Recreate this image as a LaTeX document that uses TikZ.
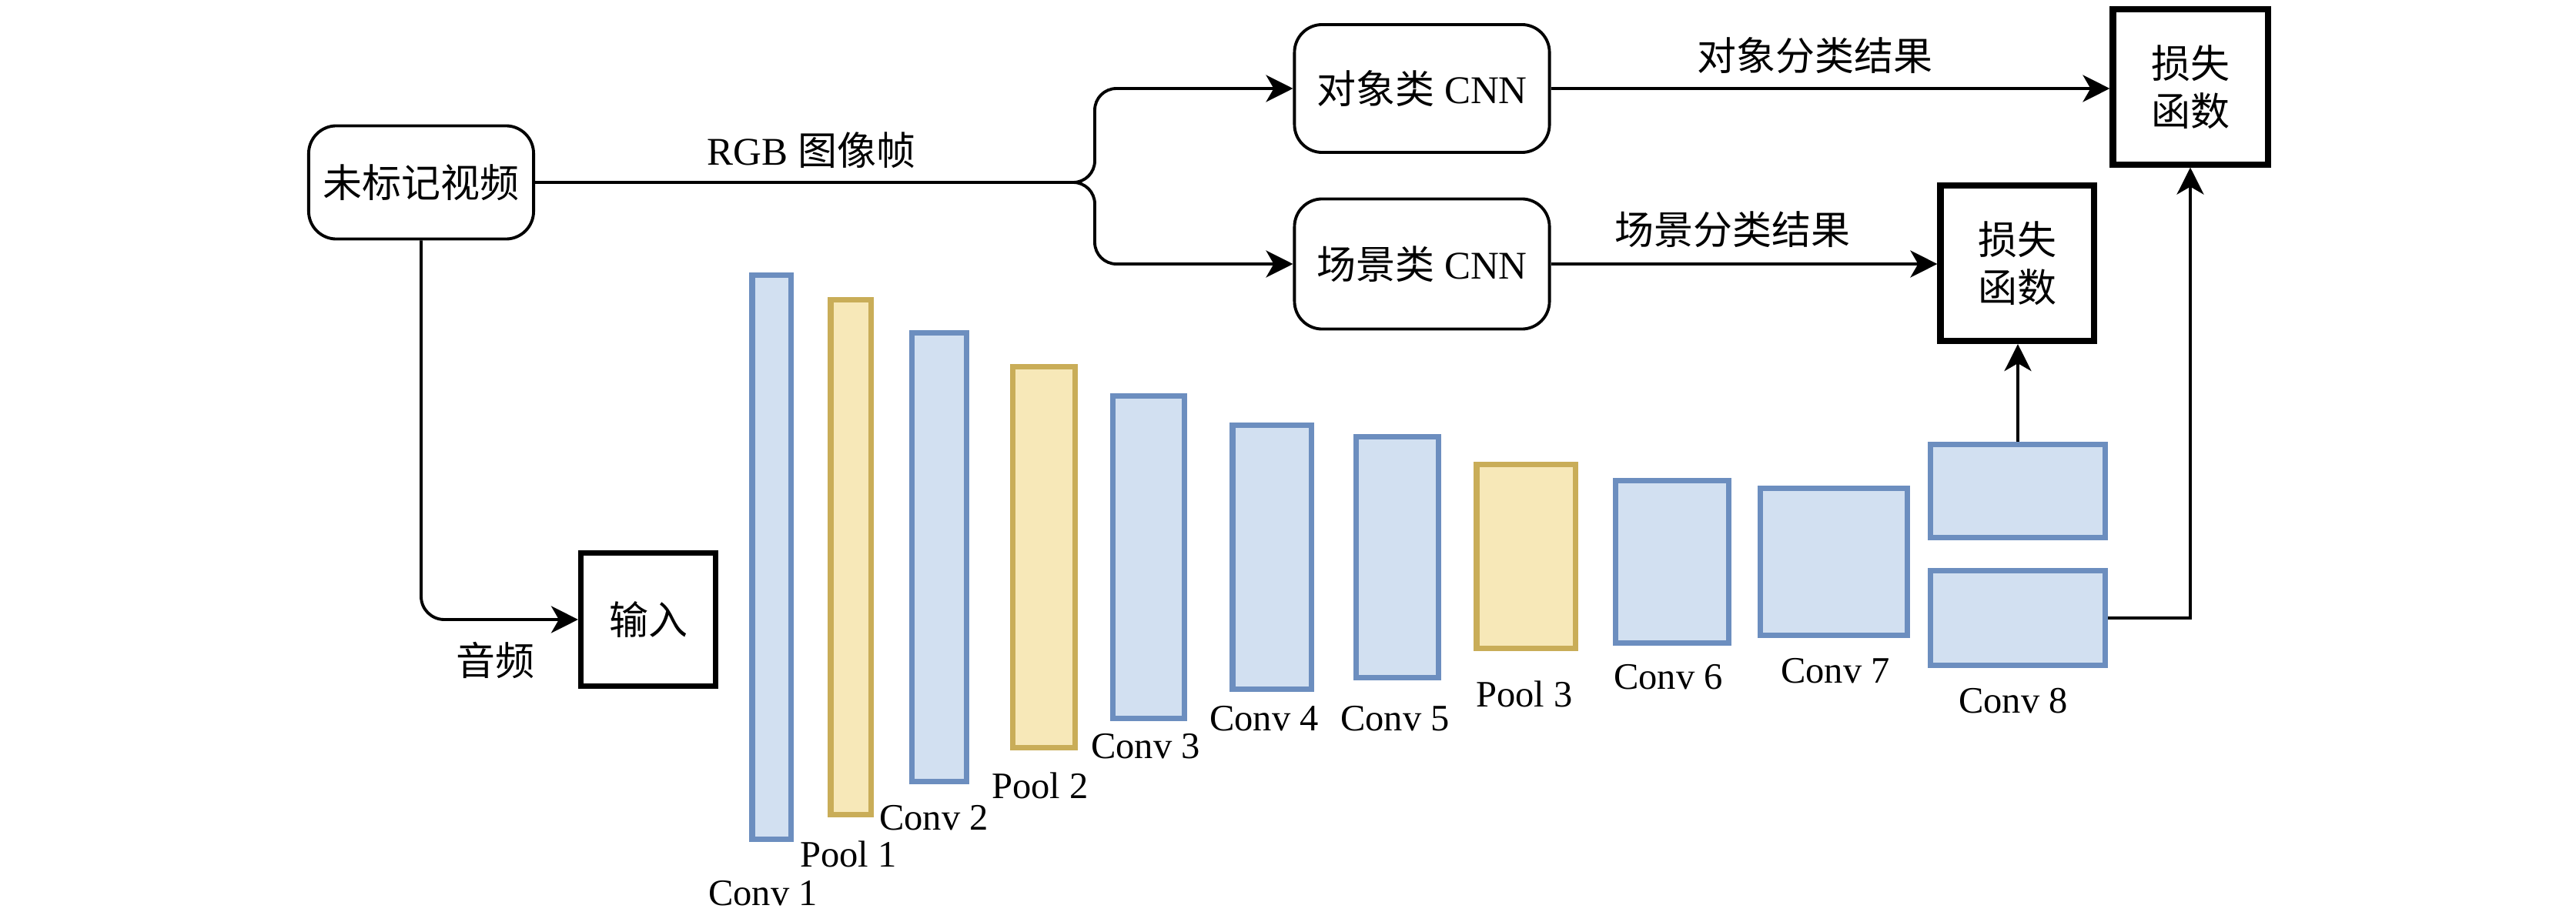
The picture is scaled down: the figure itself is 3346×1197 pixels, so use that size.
\documentclass[tikz,border=0pt]{standalone}
\usepackage{fontspec}
\setmainfont{Liberation Serif}
\newfontfamily\cjk{Noto Sans CJK SC}
\usetikzlibrary{arrows.meta}
\definecolor{convfill}{HTML}{D2E0F1}
\definecolor{convdraw}{HTML}{6C8EBF}
\definecolor{poolfill}{HTML}{F7E8B8}
\definecolor{pooldraw}{HTML}{C9AD58}
\begin{document}
\begin{tikzpicture}[x=0.01cm,y=-0.01cm,
  txt/.style={font=\fontsize{14.5}{17.6}\selectfont, inner sep=0pt},
  lbl/.style={font=\fontsize{13.8}{16}\selectfont, inner sep=0pt},
  rbox/.style={draw=black, line width=1.1pt, rounded corners=0.36cm, inner sep=0pt, font=\fontsize{14.5}{17.6}\selectfont},
  sbox/.style={draw=black, line width=2.3pt, inner sep=0pt, align=center, font=\fontsize{14.5}{17.6}\selectfont},
  conv/.style={draw=convdraw, fill=convfill, line width=2pt, inner sep=0pt},
  pool/.style={draw=pooldraw, fill=poolfill, line width=2pt, inner sep=0pt},
  arr/.style={line width=1.1pt, -{Stealth[length=0.35cm, width=0.35cm, inset=0.1cm]}},
  ln/.style={line width=1.1pt}
]
\useasboundingbox (0,0) rectangle (3346,1197);

% rounded boxes
\node[rbox, minimum width=2.92cm, minimum height=1.47cm] (v) at (547,237) {\cjk 未标记视频};
\node[rbox, minimum width=3.31cm, minimum height=1.66cm] (obj) at (1847,115) {{\cjk 对象类} CNN};
\node[rbox, minimum width=3.31cm, minimum height=1.69cm] (scn) at (1847,343) {{\cjk 场景类} CNN};

% loss boxes and input
\node[sbox, minimum width=2.01cm, minimum height=2.01cm] (loss1) at (2845,113) {\cjk 损失\\\cjk 函数};
\node[sbox, minimum width=1.99cm, minimum height=2.02cm] (loss2) at (2620,342) {\cjk 损失\\\cjk 函数};
\node[sbox, line width=2.0pt, minimum width=1.75cm, minimum height=1.72cm] (inp) at (842,805) {\cjk 输入};

% layers
\node[conv, minimum width=0.50cm, minimum height=7.32cm] (c1) at (1002,724) {};
\node[pool, minimum width=0.52cm, minimum height=6.69cm] (p1) at (1105,724) {};
\node[conv, minimum width=0.71cm, minimum height=5.82cm] (c2) at (1220,724) {};
\node[pool, minimum width=0.81cm, minimum height=4.95cm] (p2) at (1356,724) {};
\node[conv, minimum width=0.93cm, minimum height=4.18cm] (c3) at (1492,724) {};
\node[conv, minimum width=1.02cm, minimum height=3.42cm] (c4) at (1652,724) {};
\node[conv, minimum width=1.07cm, minimum height=3.13cm] (c5) at (1815,724) {};
\node[pool, minimum width=1.28cm, minimum height=2.39cm] (p3) at (1982,723) {};
\node[conv, minimum width=1.47cm, minimum height=2.10cm] (c6) at (2172,730) {};
\node[conv, minimum width=1.91cm, minimum height=1.91cm] (c7) at (2382,730) {};
\node[conv, minimum width=2.27cm, minimum height=1.21cm] (c8a) at (2621,638) {};
\node[conv, minimum width=2.27cm, minimum height=1.23cm] (c8b) at (2621,803) {};

% layer labels
\node[lbl] (lc1) at (991,1161) {Conv 1};
\node[lbl] (lp1) at (1102,1110) {Pool 1};
\node[lbl] (lc2) at (1213,1063) {Conv 2};
\node[lbl] (lp2) at (1351,1021) {Pool 2};
\node[lbl] (lc3) at (1488,970) {Conv 3};
\node[lbl] (lc4) at (1642,934) {Conv 4};
\node[lbl] (lc5) at (1812,934) {Conv 5};
\node[lbl] (lp3) at (1980,902) {Pool 3};
\node[lbl] (lc6) at (2167,880) {Conv 6};
\node[lbl] (lc7) at (2384,872) {Conv 7};
\node[lbl] (lc8) at (2615,911) {Conv 8};

% edge labels
\node[txt] (trgb) at (1054,195) {RGB {\cjk 图像帧}};
\node[txt] (tobj) at (2357,72) {\cjk 对象分类结果};
\node[txt] (tscn) at (2250,298) {\cjk 场景分类结果};
\node[txt] (taud) at (643,858) {\cjk 音频};

% connectors
\coordinate (fork) at (1422,237);
\draw[arr, rounded corners=0.28cm] (v.east) -- (fork) |- (obj.west);
\draw[arr, rounded corners=0.28cm] (v.east) -- (fork) |- (scn.west);
\draw[arr, rounded corners=0.3cm] (v.south) |- (inp.west);
\draw[arr] (obj.east) -- (obj.east -| loss1.west);
\draw[arr] (scn.east) -- (scn.east -| loss2.west);
\draw[arr] (c8a.north) -- (c8a.north |- loss2.south);
\draw[arr] (c8b.east) -| (loss1.south);
\end{tikzpicture}
\end{document}
